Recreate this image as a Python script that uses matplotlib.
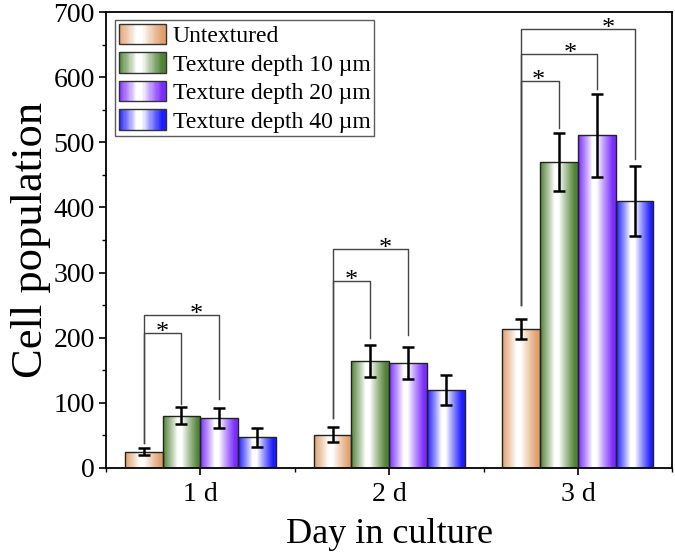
import numpy as np
import matplotlib
matplotlib.use("Agg")
import matplotlib.pyplot as plt
from matplotlib.patches import Rectangle
from matplotlib.colors import to_rgb
from matplotlib.ticker import MultipleLocator, FixedLocator

plt.rcParams["font.family"] = ["Liberation Serif", "DejaVu Serif"]

# data
days = ["1 d", "2 d", "3 d"]
labels = ["Untextured", "Texture depth 10 µm", "Texture depth 20 µm", "Texture depth 40 µm"]
colors = ["#e0a06e", "#4f8235", "#7a2cff", "#1c1cff"]

untextured = [25, 51, 213]
depth10 = [80, 164, 470]
depth20 = [77, 161, 511]
depth40 = [47, 120, 410]
untextured_err = [5, 12, 15]
depth10_err = [13, 25, 45]
depth20_err = [15, 25, 64]
depth40_err = [15, 23, 54]

# significance brackets: day, compared bar, line height, left leg end, right leg end, star offset
bracket_day = [0, 0, 1, 1, 2, 2, 2]
bracket_bar = [1, 2, 1, 2, 1, 2, 3]
bracket_top = [207, 235, 287, 336, 594, 636, 674]
bracket_left_end = [38, 38, 77, 77, 250, 250, 250]
bracket_right_end = [98, 106, 200, 204, 522, 582, 475]
star_dx = [-0.20, -0.02, -0.20, -0.02, -0.21, -0.04, 0.16]

means = [untextured, depth10, depth20, depth40]
errs = [untextured_err, depth10_err, depth20_err, depth40_err]

def gradient_colors(color, n=60):
    # colour at the edges, white towards the middle
    c = np.array(to_rgb(color))
    x = (np.arange(n) + 0.5) / n
    w = np.where(x < 0.38, 1 - x / 0.38, np.where(x < 0.5, 0, (x - 0.5) / 0.42))
    w = np.clip(w, 0, 1) ** 0.9
    return (1 - w)[:, None] * np.ones(3) + w[:, None] * c

class GradientHandler:
    def legend_artist(self, legend, orig_handle, fontsize, handlebox):
        x0, y0 = -handlebox.xdescent, -handlebox.ydescent
        w, h = handlebox.width, handlebox.height
        cols = gradient_colors(orig_handle.grad_color, 40)
        for i, c in enumerate(cols):
            handlebox.add_artist(Rectangle((x0 + i * w / 40, y0), w / 40 + 0.3, h,
                                           facecolor=c, edgecolor="none",
                                           transform=handlebox.get_transform()))
        frame = Rectangle((x0, y0), w, h, facecolor="none", edgecolor="#333333",
                          lw=1.0, transform=handlebox.get_transform())
        handlebox.add_artist(frame)
        return frame

fig = plt.figure(figsize=(6.75, 5.55), dpi=100)
ax = fig.add_axes([0.157, 0.157, 0.839, 0.821])

x = np.arange(1, len(days) + 1)
width = 0.2
handles = []
for i in range(4):
    pos = x + (i - 1.5) * width
    bars = ax.bar(pos, means[i], width, facecolor="none", edgecolor="#222222",
                  lw=1.0, zorder=3, label=labels[i])
    grad = gradient_colors(colors[i])[None, :, :]
    for rect in bars:
        im = ax.imshow(grad, extent=(rect.get_x(), rect.get_x() + rect.get_width(),
                                     0, rect.get_height()),
                       aspect="auto", interpolation="bilinear", zorder=2)
        im.set_clip_path(rect)
    ax.errorbar(pos, means[i], yerr=errs[i], fmt="none", ecolor="black",
                elinewidth=1.8, capsize=4.5, capthick=1.8, zorder=4)
    h = Rectangle((0, 0), 1, 1)
    h.grad_color = colors[i]
    handles.append(h)

for d, b, top, le, re, sdx in zip(bracket_day, bracket_bar, bracket_top,
                                   bracket_left_end, bracket_right_end, star_dx):
    xl = x[d] - 1.5 * width
    xr = x[d] + (b - 1.5) * width
    ax.plot([xl, xl, xr, xr], [le, top, top, re], color="#444444", lw=1.0, zorder=5)
    ax.text(x[d] + sdx, top - 9, "*", ha="center", va="baseline", fontsize=19, zorder=5)

ax.set_xlim(0.5, 3.5)
ax.set_ylim(0, 700)
ax.set_xticks(x)
ax.set_xticklabels(days)
ax.xaxis.set_minor_locator(FixedLocator([0.5, 1.5, 2.5, 3.5]))
ax.yaxis.set_major_locator(MultipleLocator(100))
ax.yaxis.set_minor_locator(MultipleLocator(50))
ax.tick_params(axis="both", which="major", direction="out", length=5, width=1.2,
               labelsize=20, pad=3, top=False, right=False)
ax.tick_params(axis="x", which="major", pad=5)
ax.tick_params(axis="both", which="minor", direction="out", length=3, width=1.0,
               top=False, right=False)
for s in ax.spines.values():
    s.set_linewidth(1.3)

ax.set_xlabel("Day in culture", fontsize=26, labelpad=8)
ax.set_ylabel("Cell population", fontsize=32, labelpad=2)

leg = ax.legend(handles, labels, handler_map={Rectangle: GradientHandler()},
                loc="upper left", bbox_to_anchor=(0.016, 0.982), borderaxespad=0,
                fontsize=17, handlelength=2.0, handleheight=0.95,
                handletextpad=0.3, labelspacing=0.22, borderpad=0.15,
                frameon=True, fancybox=False, edgecolor="#333333")
leg.get_frame().set_linewidth(1.0)

fig.savefig("out.png", dpi=100)
